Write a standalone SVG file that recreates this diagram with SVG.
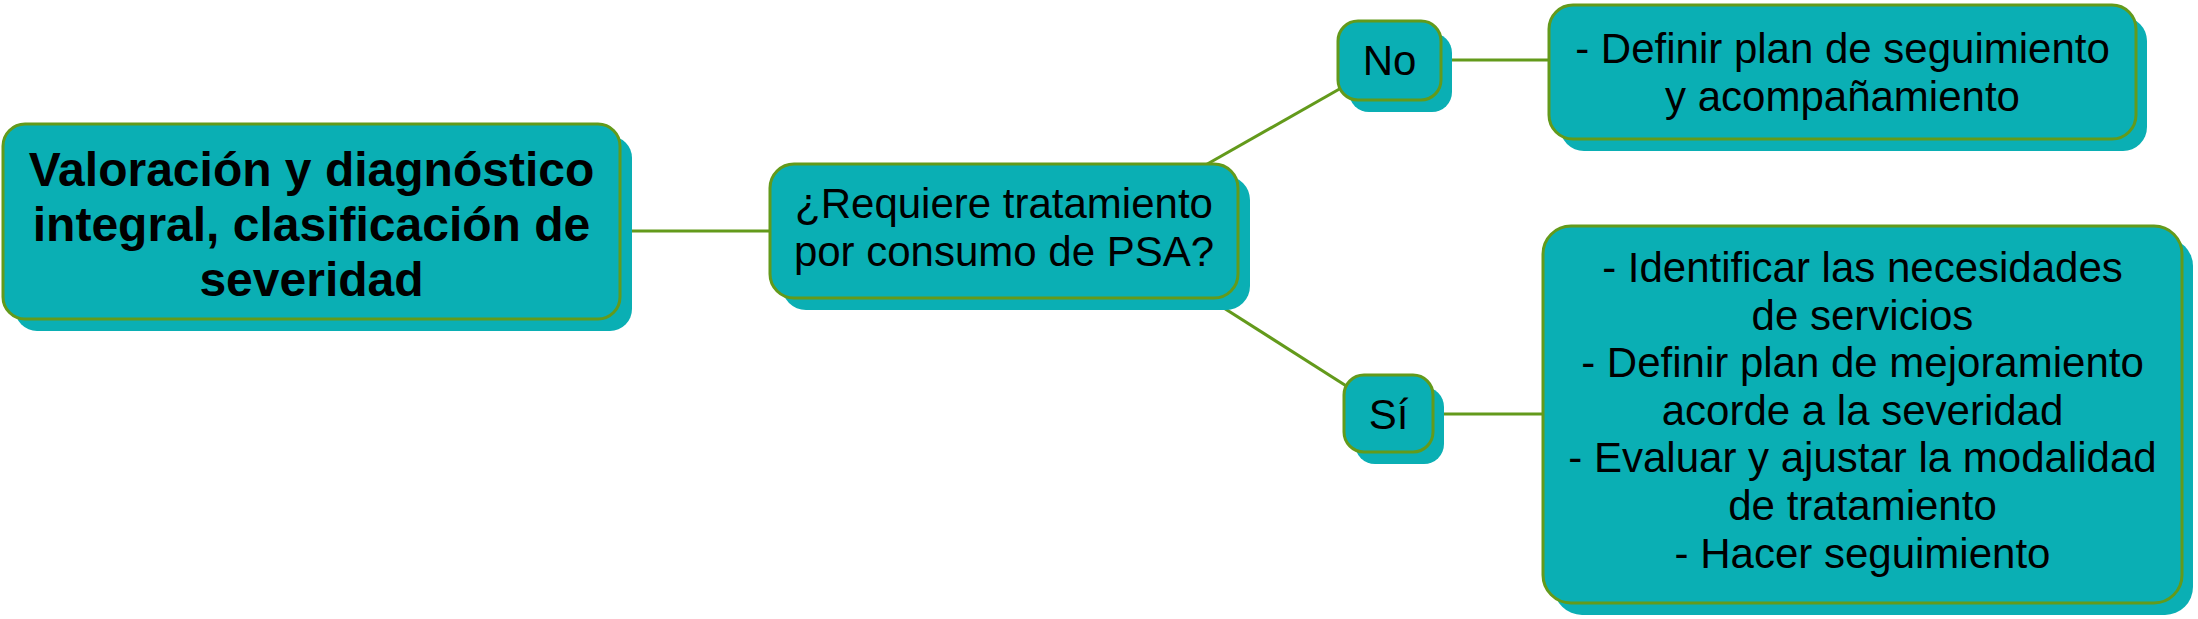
<svg xmlns="http://www.w3.org/2000/svg" width="2198" height="619" viewBox="0 0 2198 619">
<style>
.bg{fill:#ffffff}
.sh{fill:#0AAFB4;stroke:none}
.box{fill:#0AAFB4;stroke:#639A1B;stroke-width:3}
.ln{stroke:#639A1B;stroke-width:3;fill:none}
.t{font-family:"Liberation Sans",Arial,sans-serif;font-size:42px;fill:#000;text-anchor:middle}
.tb{font-family:"Liberation Sans",Arial,sans-serif;font-size:48px;font-weight:bold;fill:#000;text-anchor:middle}
</style>
<rect class="bg" x="0" y="0" width="2198" height="619"/>
<g id="connectors">
<line class="ln" x1="620" y1="231" x2="770" y2="231"/>
<line class="ln" x1="1195" y1="171" x2="1350" y2="83"/>
<line class="ln" x1="1212" y1="300.5" x2="1355" y2="391.4"/>
<line class="ln" x1="1441" y1="60" x2="1549" y2="60"/>
<line class="ln" x1="1433" y1="414" x2="1543" y2="414"/>
</g>
<g id="node-valoracion">
<rect class="sh" x="15" y="136" width="617" height="195" rx="22"/>
<rect class="box" x="3" y="124" width="617" height="195" rx="22"/>
<text class="tb" x="311.5" y="186">Valoración y diagnóstico</text>
<text class="tb" x="311.5" y="241">integral, clasificación de</text>
<text class="tb" x="311.5" y="296">severidad</text>
</g>
<g id="node-requiere">
<rect class="sh" x="782" y="176" width="468" height="134" rx="24"/>
<rect class="box" x="770" y="164" width="468" height="134" rx="24"/>
<text class="t" x="1004" y="218">¿Requiere tratamiento</text>
<text class="t" x="1004" y="266">por consumo de PSA?</text>
</g>
<g id="node-no">
<rect class="sh" x="1349" y="33" width="103" height="79" rx="20"/>
<rect class="box" x="1338" y="21" width="103" height="79" rx="20"/>
<text class="t" x="1389.5" y="75">No</text>
</g>
<g id="node-si">
<rect class="sh" x="1355" y="387" width="89" height="77" rx="20"/>
<rect class="box" x="1344" y="375" width="89" height="77" rx="20"/>
<text class="t" x="1388.5" y="429">Sí</text>
</g>
<g id="node-seguimiento">
<rect class="sh" x="1560" y="17" width="587" height="134" rx="24"/>
<rect class="box" x="1549" y="5" width="587" height="134" rx="24"/>
<text class="t" x="1842.5" y="63">- Definir plan de seguimiento</text>
<text class="t" x="1842.5" y="111">y acompañamiento</text>
</g>
<g id="node-acciones">
<rect class="sh" x="1554" y="238" width="639" height="377" rx="28"/>
<rect class="box" x="1543" y="226" width="639" height="377" rx="28"/>
<text class="t" x="1862.5" y="282">- Identificar las necesidades</text>
<text class="t" x="1862.5" y="330">de servicios</text>
<text class="t" x="1862.5" y="377">- Definir plan de mejoramiento</text>
<text class="t" x="1862.5" y="425">acorde a la severidad</text>
<text class="t" x="1862.5" y="472">- Evaluar y ajustar la modalidad</text>
<text class="t" x="1862.5" y="520">de tratamiento</text>
<text class="t" x="1862.5" y="568">- Hacer seguimiento</text>
</g>
</svg>
